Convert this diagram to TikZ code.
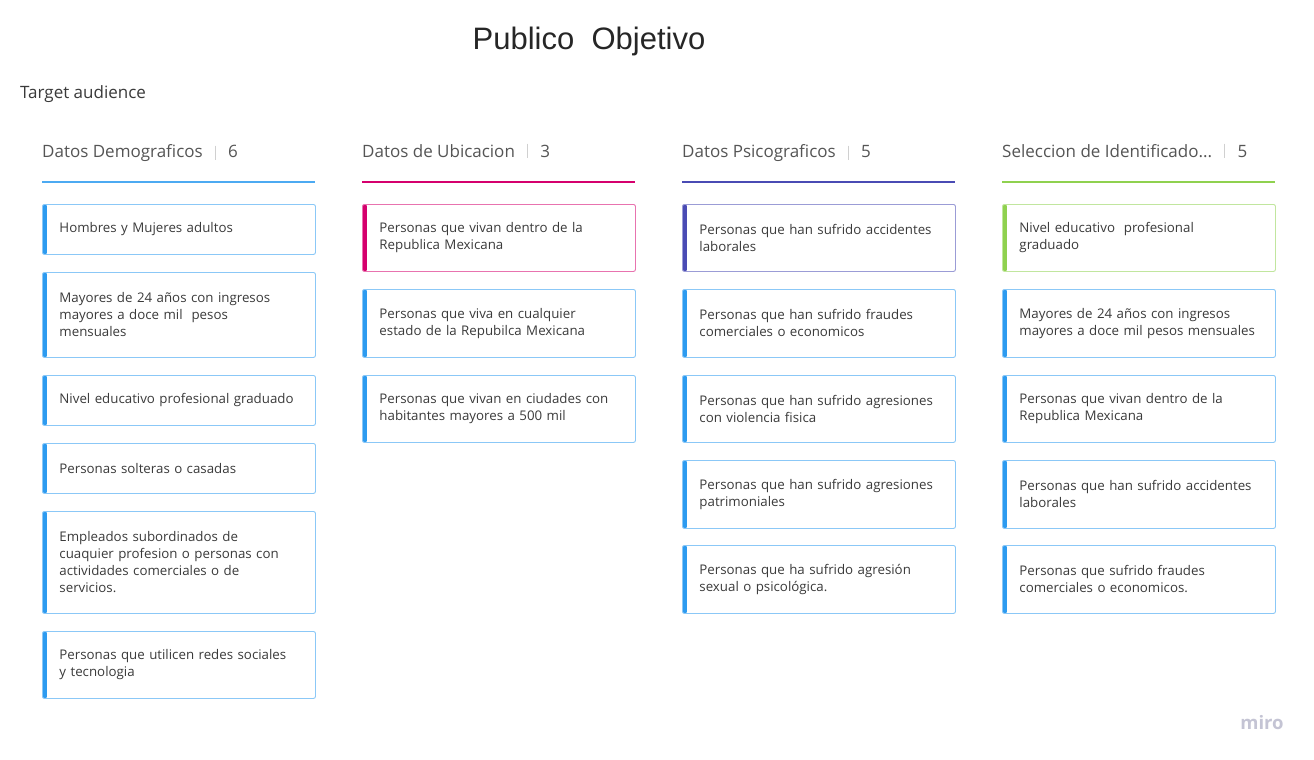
\documentclass[tikz,border=0pt]{standalone}
\usepackage{fontspec}
\setmainfont{Open Sans}
\newfontfamily\titlefont{Liberation Sans}
\usetikzlibrary{positioning}

\definecolor{demoblue}{HTML}{2D9BF0}
\definecolor{ubimagenta}{HTML}{D5006D}
\definecolor{psicoindigo}{HTML}{4A4BB4}
\definecolor{selgreen}{HTML}{8FD14F}
\definecolor{cardtext}{HTML}{3A3A3A}
\definecolor{headtext}{HTML}{555555}
\definecolor{seplight}{HTML}{D0D0D0}
\definecolor{mirogray}{HTML}{C4C4D4}

\tikzset{
  card/.style={rectangle, draw=#1!55, line width=0.9pt, rounded corners=2pt,
    minimum width=273pt, text width=239pt, inner xsep=17pt, inner ysep=0pt,
    align=left, anchor=north west, text=cardtext,
    font=\fontsize{13.3}{17}\selectfont,
    path picture={\fill[#1] (path picture bounding box.north west)
      rectangle ([xshift=4.5pt]path picture bounding box.south west);}},
  card/.default=demoblue,
  colhead/.style={inner sep=0pt, anchor=base west, text=headtext,
    font=\fontsize{17}{20}\selectfont},
  headline/.style={line width=1.6pt}
}

\begin{document}
\begin{tikzpicture}[x=1pt, y=-1pt]

  \useasboundingbox (0,0) rectangle (1314,760);
  \fill[white] (0,0) rectangle (1314,760);

  % Title and subtitle
  \node[font=\titlefont\fontsize{31}{36}\selectfont, text=black!85] (title) at (589,41) {Publico\ \ Objetivo};
  \node[anchor=west, text=cardtext, font=\fontsize{17}{20}\selectfont, inner sep=0pt] (target) at (20,94) {Target audience};

  % Column headers
  \node[colhead] (hdemo) at (42,157) {Datos Demograficos};
  \node[colhead, base right=25pt of hdemo] (ndemo) {6};
  \draw[seplight, thick] ([xshift=12.5pt]hdemo.east) ++(0,-7) -- ++(0,14);
  \draw[headline, demoblue!85] (42,182) -- (315,182);

  \node[colhead] (hubi) at (362,157) {Datos de Ubicacion};
  \node[colhead, base right=25pt of hubi] (nubi) {3};
  \draw[seplight, thick] ([xshift=12.5pt]hubi.east) ++(0,-7) -- ++(0,14);
  \draw[headline, ubimagenta] (362,182) -- (635,182);

  \node[colhead] (hpsico) at (682,157) {Datos Psicograficos};
  \node[colhead, base right=25pt of hpsico] (npsico) {5};
  \draw[seplight, thick] ([xshift=12.5pt]hpsico.east) ++(0,-7) -- ++(0,14);
  \draw[headline, psicoindigo] (682,182) -- (955,182);

  \node[colhead] (hsel) at (1002,157) {Seleccion de Identificado...};
  \node[colhead, base right=25pt of hsel] (nsel) {5};
  \draw[seplight, thick] ([xshift=12.5pt]hsel.east) ++(0,-7) -- ++(0,14);
  \draw[headline, selgreen] (1002,182) -- (1275,182);

  % Datos Demograficos cards
  \node[card, minimum height=50pt] (demo1) at (42,204) {Hombres y Mujeres adultos};
  \node[card, minimum height=85pt] (demo2) at (42,272) {Mayores de 24 años con ingresos\\mayores a doce mil\ \ pesos\\mensuales};
  \node[card, minimum height=50pt] (demo3) at (42,375) {Nivel educativo profesional graduado};
  \node[card, minimum height=50pt] (demo4) at (42,443) {Personas solteras o casadas};
  \node[card, minimum height=102pt] (demo5) at (42,511) {Empleados subordinados de\\cuaquier profesion o personas con\\actividades comerciales o de\\servicios.};
  \node[card, minimum height=67pt] (demo6) at (42,631) {Personas que utilicen redes sociales\\y tecnologia};

  % Datos de Ubicacion cards
  \node[card=ubimagenta, minimum height=67pt] (ubi1) at (362,204) {Personas que vivan dentro de la\\Republica Mexicana};
  \node[card, minimum height=68pt] (ubi2) at (362,289) {Personas que viva en cualquier\\estado de la Repubilca Mexicana};
  \node[card, minimum height=67pt] (ubi3) at (362,375) {Personas que vivan en ciudades con\\habitantes mayores a 500 mil};

  % Datos Psicograficos cards
  \node[card=psicoindigo, minimum height=67pt] (psico1) at (682,204) {Personas que han sufrido accidentes\\laborales};
  \node[card, minimum height=68pt] (psico2) at (682,289) {Personas que han sufrido fraudes\\comerciales o economicos};
  \node[card, minimum height=67pt] (psico3) at (682,375) {Personas que han sufrido agresiones\\con violencia fisica};
  \node[card, minimum height=68pt] (psico4) at (682,460) {Personas que han sufrido agresiones\\patrimoniales};
  \node[card, minimum height=68pt] (psico5) at (682,545) {Personas que ha sufrido agresión\\sexual o psicológica.};

  % Seleccion de Identificadores cards
  \node[card=selgreen, minimum height=67pt] (sel1) at (1002,204) {Nivel educativo\ \ profesional\\graduado};
  \node[card, minimum height=68pt] (sel2) at (1002,289) {Mayores de 24 años con ingresos\\mayores a doce mil pesos mensuales};
  \node[card, minimum height=67pt] (sel3) at (1002,375) {Personas que vivan dentro de la\\Republica Mexicana};
  \node[card, minimum height=68pt] (sel4) at (1002,460) {Personas que han sufrido accidentes\\laborales};
  \node[card, minimum height=68pt] (sel5) at (1002,545) {Personas que sufrido fraudes\\comerciales o economicos.};

  % Watermark
  \node[text=mirogray, font=\bfseries\fontsize{18.5}{20}\selectfont] (miro) at (1262,723) {miro};

\end{tikzpicture}
\end{document}
